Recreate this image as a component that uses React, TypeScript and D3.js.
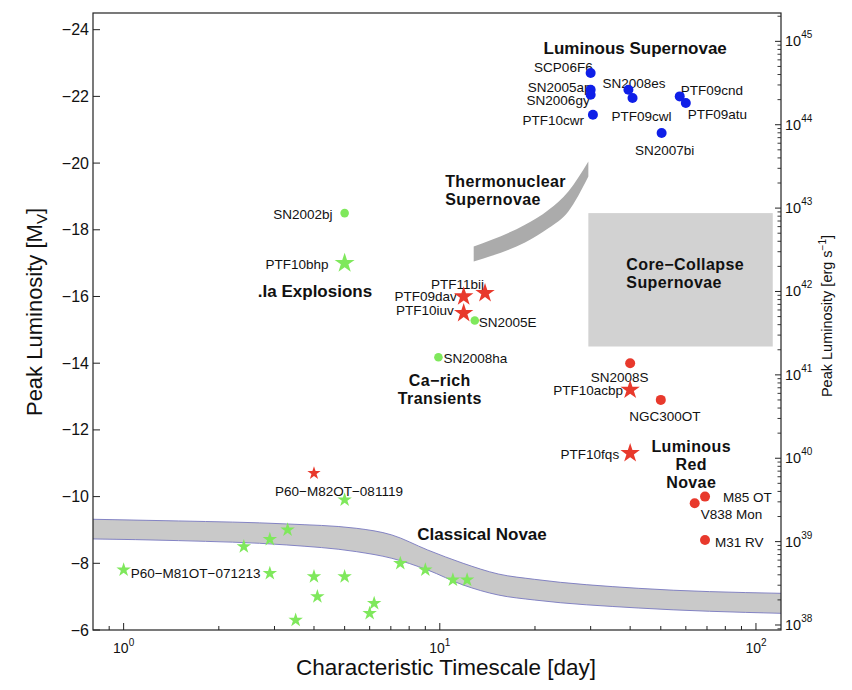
import React from 'react';
import * as d3 from 'd3';

// ---------- data ----------
const xDomain = [0.8, 120];
const yDomain = [-6, -24.5];
const lumDomain = [Math.pow(10, 37.94), Math.pow(10, 45.34)];

const yTicks = [-24, -22, -20, -18, -16, -14, -12, -10, -8, -6];
const xMajor = [1, 10, 100];
const xMajorExp = ['0', '1', '2'];
const lumMajorExp = [38, 39, 40, 41, 42, 43, 44, 45];

// Luminous supernovae (blue dots)
const lsnNames = ['SCP06F6', 'SN2005ap', 'SN2006gy', 'PTF10cwr', 'SN2008es', 'PTF09cwl', 'PTF09cnd', 'PTF09atu', 'SN2007bi'];
const lsnT = [30, 30, 30, 30.5, 39.5, 40.7, 57.4, 60, 50.3];
const lsnM = [-22.7, -22.2, -22.05, -21.45, -22.2, -21.95, -22.0, -21.8, -20.9];

// green dots
const gDotNames = ['SN2002bj', 'SN2005E', 'SN2008ha'];
const gDotT = [5.0, 12.9, 9.9];
const gDotM = [-18.5, -15.28, -14.18];

// green big star
const gStarNames = ['PTF10bhp'];
const gStarT = [5.0];
const gStarM = [-17.0];

// red big stars
const rStarNames = ['PTF11bij', 'PTF09dav', 'PTF10iuv', 'PTF10acbp', 'PTF10fqs'];
const rStarT = [13.9, 11.9, 11.9, 40, 40];
const rStarM = [-16.1, -16.0, -15.5, -13.2, -11.3];

// red dots
const rDotNames = ['SN2008S', 'NGC300OT', 'M85 OT', 'V838 Mon', 'M31 RV'];
const rDotT = [40, 50, 69, 64, 69];
const rDotM = [-14.0, -12.9, -10.0, -9.8, -8.7];

// red small star
const rSmallNames = ['P60\u2212M82OT\u2212081119'];
const rSmallT = [4.0];
const rSmallM = [-10.7];

// novae (small green stars)
const novaNames = ['P60\u2212M81OT\u2212071213', '', '', '', '', '', '', '', '', '', '', '', '', '', '', ''];
const novaT = [1.0, 2.4, 2.9, 3.3, 2.9, 4.0, 5.0, 4.1, 3.5, 5.0, 6.0, 6.2, 7.5, 9.0, 11, 12.2];
const novaM = [-7.8, -8.5, -8.72, -9.0, -7.7, -7.6, -7.6, -7.0, -6.3, -9.9, -6.5, -6.8, -8.0, -7.8, -7.5, -7.5];

// Classical novae band
const cnT = [0.8, 1.49, 3.28, 5.44, 7.05, 9.15, 11.85, 15.3, 19.9, 42.4, 120];
const cnUpper = [-9.32, -9.27, -9.18, -9.05, -8.85, -8.4, -8.0, -7.68, -7.52, -7.25, -7.1];
const cnLower = [-8.73, -8.68, -8.55, -8.35, -8.15, -7.8, -7.35, -7.05, -6.9, -6.66, -6.5];

// Thermonuclear band
const tnT = [12.8, 14.6, 18.6, 22.1, 25.5, 29.5];
const tnUpper = [-17.5, -17.7, -18.15, -18.6, -19.15, -20.05];
const tnLower = [-17.05, -17.22, -17.62, -18.05, -18.55, -19.6];

// Core-collapse box
const ccT = [29.5, 113];
const ccM = [-14.5, -18.5];

// group labels
const groupLines = [
  ['Luminous Supernovae'],
  ['Thermonuclear', 'Supernovae'],
  ['Core\u2212Collapse', 'Supernovae'],
  ['.Ia Explosions'],
  ['Ca\u2212rich', 'Transients'],
  ['Luminous', 'Red', 'Novae'],
  ['Classical Novae'],
];
const groupT = [41.5, 10.4, 38.9, 4.03, 10.0, 62.4, 13.6];
const groupM = [-23.45, -19.45, -16.95, -16.15, -13.47, -11.47, -8.88];

// ---------- layout / style ----------
const FONT = '"Liberation Sans", Arial, Helvetica, sans-serif';
const groupAnchor = ['middle', 'start', 'start', 'middle', 'middle', 'middle', 'middle'];
const labelLayout: Record<string, [string, number, number]> = {
  'SCP06F6': ['end', 2, -5.6],
  'SN2005ap': ['end', 1, -2.3],
  'SN2006gy': ['end', -1, 6],
  'PTF10cwr': ['end', -9, 6],
  'SN2008es': ['middle', 5.5, -6],
  'PTF09cwl': ['middle', 9, 18],
  'PTF09cnd': ['start', 1, -6],
  'PTF09atu': ['start', 2, 11],
  'SN2007bi': ['middle', 3, 17],
  'SN2002bj': ['end', -12, 1],
  'PTF10bhp': ['end', -16, 1],
  'SN2005E': ['start', 4, 2],
  'SN2008ha': ['start', 5, 1],
  'P60\u2212M81OT\u2212071213': ['start', 7, 4],
  'PTF11bij': ['end', -1, -9],
  'PTF09dav': ['end', -7, 0],
  'PTF10iuv': ['end', -10, -3],
  'SN2008S': ['middle', -10.5, 14],
  'PTF10acbp': ['end', -7, 1],
  'NGC300OT': ['middle', 4, 17],
  'PTF10fqs': ['end', -11, 1],
  'M85 OT': ['start', 18, 1],
  'V838 Mon': ['start', 6, 11],
  'M31 RV': ['start', 10, 3],
  'P60\u2212M82OT\u2212081119': ['middle', 25, 18],
};

const BLUE = '#0f1fe8';
const RED = '#e8392c';
const GREEN = '#7fe85c';

const L = 93, R = 781, T = 13, B = 630;
const REF_LINE = 16.7;
const LINE = 18;

function starPath(r: number) {
  return d3.symbol().type(d3.symbolStar).size((r * r) / 0.8908130915292852)() as string;
}

export default function App() {
  const x = d3.scaleLog().domain(xDomain).range([L, R]);
  const y = d3.scaleLinear().domain(yDomain).range([B, T]);
  const yL = d3.scaleLog().domain(lumDomain).range([B, T]);

  const cnIdx = cnT.map((_, i) => i);
  const cnArea = d3.area<number>().x((i) => x(cnT[i])).y0((i) => y(cnLower[i])).y1((i) => y(cnUpper[i])).curve(d3.curveMonotoneX);
  const cnUp = d3.line<number>().x((i) => x(cnT[i])).y((i) => y(cnUpper[i])).curve(d3.curveMonotoneX);
  const cnLo = d3.line<number>().x((i) => x(cnT[i])).y((i) => y(cnLower[i])).curve(d3.curveMonotoneX);
  const tnIdx = tnT.map((_, i) => i);
  const tnArea = d3.area<number>().x((i) => x(tnT[i])).y0((i) => y(tnLower[i])).y1((i) => y(tnUpper[i])).curve(d3.curveMonotoneX);

  // minor ticks
  const xMinor: number[] = [];
  for (let n = -1; n <= 2; n++) for (let k = 2; k <= 9; k++) {
    const v = k * Math.pow(10, n);
    if (v > xDomain[0] && v < xDomain[1]) xMinor.push(v);
  }
  const lMinor: number[] = [];
  for (let n = 37; n <= 45; n++) for (let k = 2; k <= 9; k++) {
    const v = k * Math.pow(10, n);
    if (v > lumDomain[0] && v < lumDomain[1]) lMinor.push(v);
  }

  const label = (name: string, px: number, py: number, key: string) => {
    if (!name) return null;
    const lay = labelLayout[name] || ['start', 6, 0];
    return (
      <text key={key} x={px + lay[1]} y={py + lay[2]} textAnchor={lay[0] as any} dominantBaseline="central" fontSize={13.5} fill="#111">
        {name}
      </text>
    );
  };

  const star = (r: number) => starPath(r);

  return (
    <svg width={852} height={690} style={{ position: 'absolute', left: 0, top: 0, background: '#fff' }} fontFamily={FONT}>
      <defs>
        <clipPath id="plotclip">
          <rect x={L} y={T} width={R - L} height={B - T} />
        </clipPath>
      </defs>
      <rect x={0} y={0} width={852} height={690} fill="#fff" />

      <g clipPath="url(#plotclip)">
        {/* core collapse box */}
        <rect x={x(ccT[0])} y={y(ccM[1])} width={x(ccT[1]) - x(ccT[0])} height={y(ccM[0]) - y(ccM[1])} fill="#d2d2d2" />
        {/* thermonuclear band */}
        <path d={tnArea(tnIdx) as string} fill="#ababab" />
        {/* classical novae band */}
        <path d={cnArea(cnIdx) as string} fill="#c9c9c9" />
        <path d={cnUp(cnIdx) as string} fill="none" stroke="#7878c0" strokeWidth={0.9} />
        <path d={cnLo(cnIdx) as string} fill="none" stroke="#7878c0" strokeWidth={0.9} />
      </g>

      {/* group labels */}
      {groupLines.map((lines, gi) => {
        const multi = lines.length > 1;
        const shift = multi ? -((lines.length - 1) * (LINE - REF_LINE)) / 2 : 0;
        return (
          <text key={'g' + gi} x={x(groupT[gi])} y={y(groupM[gi]) + shift} textAnchor={groupAnchor[gi] as any} dominantBaseline="central"
            fontSize={multi ? 16 : 17} letterSpacing={multi ? 0.4 : 0} fontWeight="bold" fill="#111">
            {lines.map((ln, li) => (
              <tspan key={li} x={x(groupT[gi])} dy={li === 0 ? 0 : LINE}>{ln}</tspan>
            ))}
          </text>
        );
      })}

      {/* point labels */}
      {lsnNames.map((n, i) => label(n, x(lsnT[i]), y(lsnM[i]), 'lb' + i))}
      {gDotNames.map((n, i) => label(n, x(gDotT[i]), y(gDotM[i]), 'lgd' + i))}
      {gStarNames.map((n, i) => label(n, x(gStarT[i]), y(gStarM[i]), 'lgs' + i))}
      {rStarNames.map((n, i) => label(n, x(rStarT[i]), y(rStarM[i]), 'lrs' + i))}
      {rDotNames.map((n, i) => label(n, x(rDotT[i]), y(rDotM[i]), 'lrd' + i))}
      {rSmallNames.map((n, i) => label(n, x(rSmallT[i]), y(rSmallM[i]), 'lrsm' + i))}
      {novaNames.map((n, i) => label(n, x(novaT[i]), y(novaM[i]), 'ln' + i))}

      {/* markers */}
      {novaT.map((t, i) => (
        <path key={'n' + i} d={star(7.6)} transform={`translate(${x(t)},${y(novaM[i])})`} fill={GREEN} />
      ))}
      {rSmallT.map((t, i) => (
        <path key={'rsm' + i} d={star(7)} transform={`translate(${x(t)},${y(rSmallM[i])})`} fill={RED} />
      ))}
      {gDotT.map((t, i) => (
        <circle key={'gd' + i} cx={x(t)} cy={y(gDotM[i])} r={4.3} fill={GREEN} />
      ))}
      {gStarT.map((t, i) => (
        <path key={'gs' + i} d={star(10.5)} transform={`translate(${x(t)},${y(gStarM[i])})`} fill={GREEN} />
      ))}
      {rStarT.map((t, i) => (
        <path key={'rs' + i} d={star(10.2)} transform={`translate(${x(t)},${y(rStarM[i])})`} fill={RED} />
      ))}
      {rDotT.map((t, i) => (
        <circle key={'rd' + i} cx={x(t)} cy={y(rDotM[i])} r={5} fill={RED} />
      ))}
      {lsnT.map((t, i) => (
        <circle key={'b' + i} cx={x(t)} cy={y(lsnM[i])} r={5} fill={BLUE} />
      ))}

      {/* frame */}
      <rect x={L} y={T} width={R - L} height={B - T} fill="none" stroke="#222" strokeWidth={1.2} />

      {/* left axis ticks */}
      {yTicks.map((v) => (
        <g key={'yt' + v}>
          <line x1={L} x2={L + 7} y1={y(v)} y2={y(v)} stroke="#222" strokeWidth={1} />
          <text x={L - 4} y={y(v)} textAnchor="end" dominantBaseline="central" fontSize={16} fill="#111">
            {'\u2212' + Math.abs(v)}
          </text>
        </g>
      ))}

      {/* bottom axis ticks */}
      {xMajor.map((v, i) => (
        <g key={'xt' + v}>
          <line x1={x(v)} x2={x(v)} y1={B} y2={B - 7} stroke="#222" strokeWidth={1} />
          <text x={x(v)} y={B + 23} textAnchor="middle" fontSize={14} fill="#111">
            10<tspan dy={-7} fontSize={10}>{xMajorExp[i]}</tspan>
          </text>
        </g>
      ))}
      {xMinor.map((v) => (
        <line key={'xm' + v} x1={x(v)} x2={x(v)} y1={B} y2={B - 4} stroke="#222" strokeWidth={1} />
      ))}

      {/* right axis ticks */}
      {lumMajorExp.map((e) => {
        const yy = yL(Math.pow(10, e));
        return (
          <g key={'lt' + e}>
            <line x1={R} x2={R - 6} y1={yy} y2={yy} stroke="#222" strokeWidth={1} />
            <text x={R + 4} y={yy + 5} textAnchor="start" fontSize={14.5} fill="#111">
              10<tspan dy={-8} fontSize={10}>{e}</tspan>
            </text>
          </g>
        );
      })}
      {lMinor.map((v, i) => (
        <line key={'lm' + i} x1={R} x2={R - 3.5} y1={yL(v)} y2={yL(v)} stroke="#222" strokeWidth={0.9} />
      ))}

      {/* axis titles */}
      <text x={446} y={675} textAnchor="middle" fontSize={22.5} fill="#111">
        Characteristic Timescale [day]
      </text>
      <text transform="translate(42,312) rotate(-90)" textAnchor="middle" fontSize={22} fill="#111">
        Peak Luminosity [M<tspan dy={5} fontSize={15}>V</tspan><tspan dy={-5}>]</tspan>
      </text>
      <text transform="translate(832,316) rotate(-90)" textAnchor="middle" fontSize={14.5} fill="#111">
        Peak Luminosity [erg s<tspan dy={-6} fontSize={10}>{'\u22121'}</tspan><tspan dy={6}>]</tspan>
      </text>
    </svg>
  );
}
